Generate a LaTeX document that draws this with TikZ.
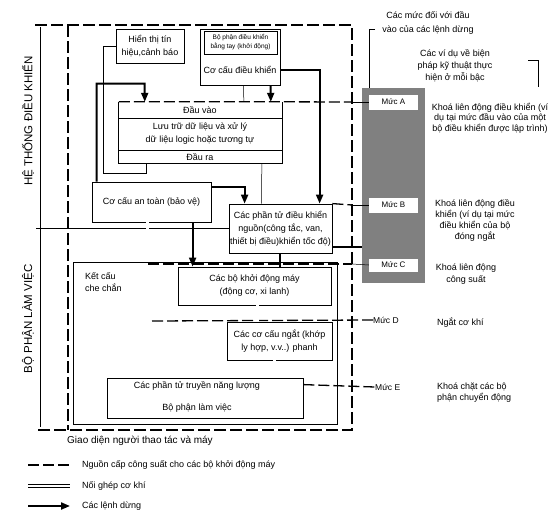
\documentclass[tikz,border=0pt]{standalone}
\usepackage{fontspec}
\setmainfont{Liberation Sans}
\usetikzlibrary{arrows.meta,calc}
\begin{document}
\begin{tikzpicture}[x=1pt,y=-1pt,
 every node/.style={font=\fontsize{9}{11}\selectfont},
 box/.style={draw,line width=0.8pt,inner sep=0pt,align=center},
 txt/.style={inner sep=0pt,align=center},
 stopcmd/.style={line width=2pt,-{Triangle[length=9pt,width=7pt]}},
 stopline/.style={line width=2pt},
 feed/.style={line width=1.3pt,dash pattern=on 11pt off 4pt},
 frame/.style={line width=1.1pt,dash pattern=on 12pt off 4pt},
 mech/.style={double,double distance=2.5pt,line width=0.5pt},
 thinline/.style={line width=0.5pt}]
\useasboundingbox (0,0) rectangle (554,522);

% frame (operator-machine interface)
\coordinate (fTL) at (68,25);
\coordinate (fTR) at (352,25);
\coordinate (fBR) at (352,430);
\coordinate (fBL) at (68,430);
\draw[frame] (35,25) -- (fTR) -- (fBR) -- (38,430);
\draw[frame] (fTL) -- (fBL);
\draw[line width=0.8pt] (40,27) -- (40,427);
\draw[thinline] (36,228) coordinate (dv) -- (229,228);

\node[rotate=90,font=\fontsize{11.5}{13}\selectfont] (lbl1) at (28,121) {HỆ THỐNG ĐIỀU KHIỂN};
\node[rotate=90,font=\fontsize{11.5}{13}\selectfont] (lbl2) at (28,319) {BỘ PHẬN LÀM VIỆC};

% boxes
\node[box,minimum width=68pt,minimum height=34pt,font=\fontsize{9}{13}\selectfont] (hien) at (150,46.5) {Hiển thị tín\\hiệu,cảnh báo};
\node[box,minimum width=80pt,minimum height=56pt] (dk) at (240,57) {};
\node[box,minimum width=73pt,minimum height=23pt,font=\fontsize{6.5}{9}\selectfont] (dktay) at (240.5,42.5) {Bộ phận điều khiển\\bằng tay (khởi động)};
\node[txt] (dkt) at (240,70) {Cơ cấu điều khiển};

\node[inner sep=0pt,minimum width=163pt,minimum height=61pt] (proc) at (200.5,132.5) {};
\draw[line width=0.8pt] (proc.north west) |- (proc.south east) -- (proc.north east);
\draw[thinline] ($(proc.north west)+(0,16)$) -- ($(proc.north east)+(0,16)$);
\draw[thinline] ($(proc.south west)+(0,-13)$) -- ($(proc.south east)+(0,-13)$);
\node[txt] (pin) at (200,110) {Đầu vào};
\node[txt,font=\fontsize{9}{13}\selectfont] (pmid) at (200,133.5) {Lưu trữ dữ liệu và xử lý\\dữ liệu logic hoặc tương tự};
\node[txt] (pout) at (200,157) {Đầu ra};

\node[box,minimum width=119pt,minimum height=40pt] (antoan) at (151.5,202) {Cơ cấu an toàn (bảo vệ)};
\node[box,minimum width=103pt,minimum height=49pt,font=\fontsize{9}{13}\selectfont] (phantu) at (280.5,228.5) {Các phần tử điều khiển\\nguồn(công tắc, van,\\thiết bị điều)khiển tốc độ)};
\node[box,minimum width=264pt,minimum height=162pt] (ketcau) at (205,343) {};
\node[txt,align=left,anchor=north west,font=\fontsize{9}{12}\selectfont] (ketcaut) at (85,272) {Kết cấu\\che chắn};
\node[box,minimum width=153pt,minimum height=38pt,font=\fontsize{9}{13}\selectfont] (khoidong) at (254.5,286) {Các bộ khởi động máy\\(động cơ, xi lanh)};
\node[box,minimum width=105pt,minimum height=38pt,font=\fontsize{9}{13}\selectfont] (ngat) at (279.5,341) {Các cơ cấu ngắt (khớp\\ly hợp, v.v..) phanh};
\node[box,minimum width=196pt,minimum height=40pt] (truyen) at (205,398) {};
\node[txt] (truyen1) at (197,386) {Các phần tử truyền năng lượng};
\node[txt] (truyen2) at (197,408) {Bộ phận làm việc};

% levels column
\node[fill=black!50,inner sep=0pt,minimum width=63pt,minimum height=195pt] (shade) at (393.5,185.5) {};
\node[fill=white,inner sep=0pt,minimum width=49pt,minimum height=15pt,font=\fontsize{8}{10}\selectfont] (mucA) at (393.5,102) {Mức A};
\node[fill=white,inner sep=0pt,minimum width=49pt,minimum height=15pt,font=\fontsize{8}{10}\selectfont] (mucB) at (393.5,205) {Mức B};
\node[fill=white,inner sep=0pt,minimum width=49pt,minimum height=13pt,font=\fontsize{8}{10}\selectfont] (mucC) at (393.5,265) {Mức C};
\node[txt,anchor=west,font=\fontsize{8.5}{10}\selectfont] (mucD) at (373,320) {Mức D};
\node[txt,anchor=west,font=\fontsize{8.5}{10}\selectfont] (mucE) at (375,387) {Mức E};

% level lines
\draw[feed] (proc.north west) -- (proc.north east) -- (352,102) coordinate (la);
\draw[thinline] (la) -- (mucA.west);
\draw[feed] (phantu.north east) -- (352,205) coordinate (lb);
\draw[thinline] (lb) -- (mucB.west);
\draw[feed] (148,264) coordinate (lc0) -- (352,264) coordinate (lc);
\draw[thinline] (lc) -- (mucC.west);
\draw[feed] (152,321) coordinate (ld0) -- (mucD.west);
\draw[feed] ($(truyen.north east)+(0,7)$) -- (mucE.west);

% stop commands (thick arrows)
\draw[stopcmd] ($(antoan.north west)+(5,0)$) -- ++(0,-98) -- ++(48,0) -- ($(proc.north west)+(26,0)$);
\draw[stopcmd] ($(dk.south west)+(71,0)$) -- ($(proc.north west)+(152,0)$);
\draw[stopcmd] ($(dk.south east)+(0,-15)$) -| ($(phantu.north west)+(91,0)$);
\draw[stopcmd] ($(antoan.north east)+(0,5)$) -| ($(phantu.north west)+(16,0)$);
\draw[stopcmd] ($(antoan.south west)+(101,0)$) -- ($(khoidong.north west)+(15,0)$);
\draw[stopline] ($(phantu.south west)+(51,0)$) -- ($(khoidong.north west)+(102,0)$);
\draw[stopline] ($(phantu.south east)+(0,-6)$) -- (shade.west |- {$(phantu.south east)+(0,-6)$});

% thin signal lines
\draw[thinline] (hien.west) -- ++(-12,0) |- ($(proc.south west)+(27,10)$) -- ($(proc.south west)+(27,0)$);
\draw[thinline] ($(dk.south west)+(44,0)$) -- ($(proc.north west)+(125,0)$);
\draw[thinline] ($(proc.south west)+(143,0)$) -- ($(phantu.north west)+(33,0)$);

% mechanical couplings
\draw[mech] ($(antoan.south west)+(56,0)$) -- ($(ketcau.north west)+(75,0)$);
\draw[mech] ($(khoidong.south west)+(80,0)$) -- ($(ngat.north west)+(31,0)$);
\draw[mech] ($(ngat.south west)+(48,0)$) -- ($(truyen.north west)+(168,0)$);

% right-hand notes
\node[txt,font=\fontsize{9}{14}\selectfont] (n1) at (428,23) {Các mức đối với đầu\\vào của các lệnh dừng};
\node[txt,font=\fontsize{9}{12}\selectfont] (n2) at (455,66) {Các ví dụ về biện\\pháp kỹ thuật  thực\\hiện ở mỗi bậc};
\node[txt,font=\fontsize{9}{10.5}\selectfont] (n3) at (490,118) {Khoá liên động điều khiển (ví\\dụ tại mức đầu vào của một\\bộ điều khiển được lập trình)};
\node[txt,font=\fontsize{9}{11}\selectfont] (n4) at (475,220) {Khoá liên động điều\\khiển (ví dụ tại mức\\điều khiển của bộ\\đóng ngắt};
\node[txt,font=\fontsize{9}{12}\selectfont] (n5) at (466,274) {Khoá liên động\\công suất};
\node[txt,anchor=west] (n6) at (437,323) {Ngắt cơ khí};
\node[txt,align=left,anchor=west,font=\fontsize{9}{11}\selectfont] (n7) at (437,393) {Khoá chặt các bộ\\phận chuyển động};
\draw[thinline] (375,29) -- (369,29) -- (shade.north -| 369,0);
\draw[thinline] (528,60) -- (538,60) -- (538,87);

% interface label
\node[txt,anchor=west,font=\fontsize{10}{12}\selectfont] (gd) at (67,441) {Giao  diện người thao tác và máy};

% legend
\coordinate (lg1a) at (28,465); \coordinate (lg1b) at (70,465);
\coordinate (lg2a) at (28,486); \coordinate (lg2b) at (70,486);
\coordinate (lg3a) at (28,506); \coordinate (lg3b) at (70,506);
\draw[feed] (lg1a) -- (lg1b);
\draw[mech] (lg2a) -- (lg2b);
\draw[stopcmd] (lg3a) -- (lg3b);
\node[txt,anchor=west] (lt1) at (82,465) {Nguồn cấp công suất cho các bộ khởi động máy};
\node[txt,anchor=west] (lt2) at (82,486) {Nối ghép cơ khí};
\node[txt,anchor=west] (lt3) at (82,506) {Các lệnh dừng};
\end{tikzpicture}
\end{document}
